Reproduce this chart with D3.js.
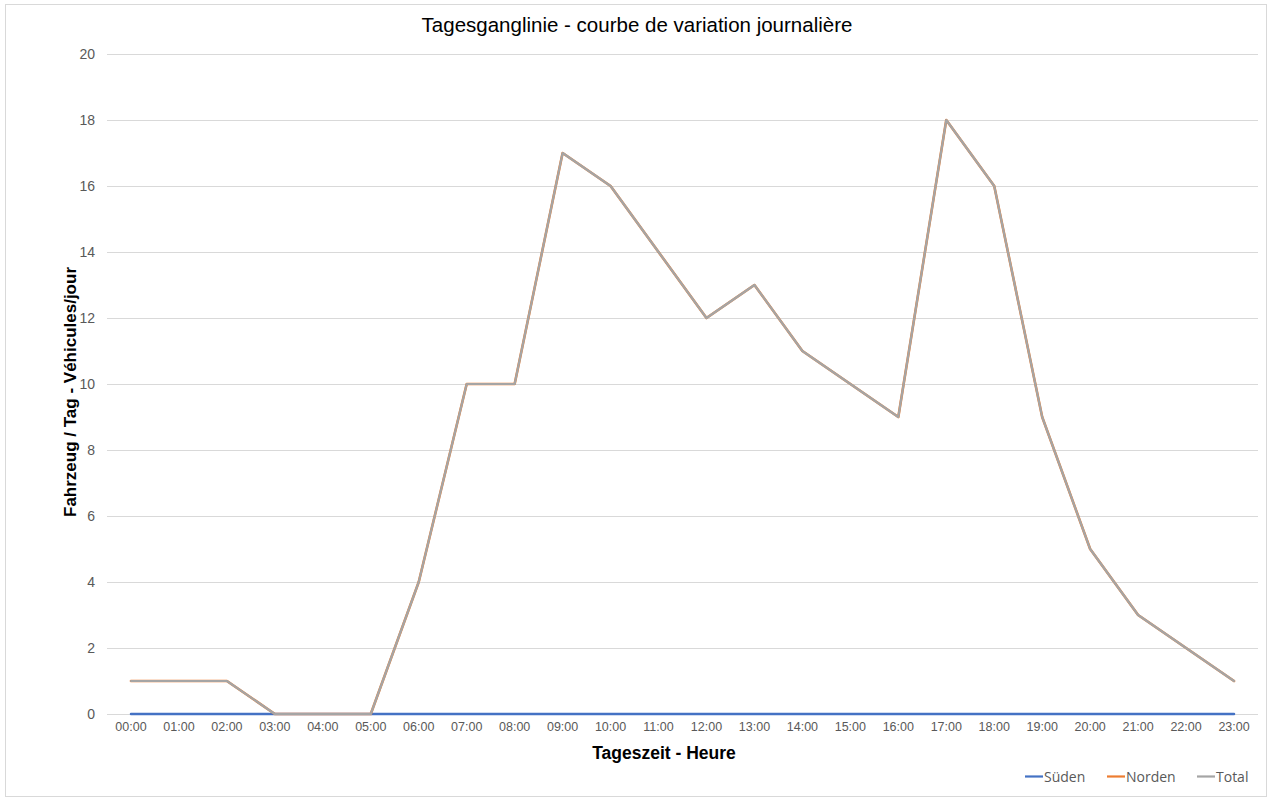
<!DOCTYPE html>
<html><head><meta charset="utf-8">
<script src="https://cdn.jsdelivr.net/npm/d3@7"></script>
<style>body{margin:0;background:#fff}</style>
</head><body>
<svg id="c" width="1271" height="800"></svg>
<script>
const hours = ["00:00","01:00","02:00","03:00","04:00","05:00","06:00","07:00","08:00","09:00","10:00","11:00","12:00","13:00","14:00","15:00","16:00","17:00","18:00","19:00","20:00","21:00","22:00","23:00"];
const sueden = [0,0,0,0,0,0,0,0,0,0,0,0,0,0,0,0,0,0,0,0,0,0,0,0];
const norden = [1,1,1,0,0,0,4,10,10,17,16,14,12,13,11,10,9,18,16,9,5,3,2,1];
const total  = [1,1,1,0,0,0,4,10,10,17,16,14,12,13,11,10,9,18,16,9,5,3,2,1];
const yTicks = [0,2,4,6,8,10,12,14,16,18,20];
const seriesNames = ["Süden","Norden","Total"];
const seriesColors = ["#4472C4","#ED7D31","#A5A5A5"];

const svg = d3.select("#c");
const font = "'Liberation Sans', Arial, sans-serif";
svg.append("rect").attr("x",5.5).attr("y",4.5).attr("width",1261).attr("height",792)
  .attr("fill","#fff").attr("stroke","#d9d9d9");

const x = d3.scaleBand().domain(hours).range([107,1258]);
const y = d3.scaleLinear().domain([0,20]).range([714,54]);

// gridlines
svg.append("g").selectAll("line").data(yTicks).join("line")
  .attr("x1",107).attr("x2",1258).attr("y1",d=>y(d)+0.5).attr("y2",d=>y(d)+0.5)
  .attr("stroke","#d9d9d9").attr("stroke-width",1);

// y axis
const ya = svg.append("g").attr("transform","translate(95,0)")
  .call(d3.axisLeft(y).tickValues(yTicks).tickSize(0).tickPadding(0));
ya.select(".domain").remove();
ya.selectAll("text").attr("font-family",font).attr("font-size",14).attr("fill","#595959");

// x axis
const xa = svg.append("g").attr("transform","translate(0,722)")
  .call(d3.axisBottom(x).tickSize(0).tickPadding(0));
xa.select(".domain").remove();
xa.selectAll("text").attr("font-family",font).attr("font-size",12.5).attr("fill","#595959").attr("dy","0.71em");

const line = d3.line().x((d,i)=>x(hours[i])+x.bandwidth()/2).y(d=>y(d));
const data = [sueden,norden,total];
const widths = [2.5,2.6,2.2];
data.forEach((s,k)=>{
  svg.append("path").datum(s).attr("d",line).attr("fill","none")
    .attr("stroke",seriesColors[k]).attr("stroke-width",widths[k])
    .attr("stroke-linejoin","round").attr("stroke-linecap","round");
});

// titles
svg.append("text").attr("x",637).attr("y",32).attr("text-anchor","middle")
  .attr("font-family",font).attr("font-size",20.5).attr("fill","#000")
  .text("Tagesganglinie - courbe de variation journalière");
svg.append("text").attr("x",664).attr("y",759).attr("text-anchor","middle")
  .attr("font-family",font).attr("font-size",17.5).attr("font-weight","bold").attr("fill","#000")
  .text("Tageszeit - Heure");
svg.append("text").attr("transform","translate(76,392) rotate(-90)").attr("text-anchor","middle")
  .attr("font-family",font).attr("font-size",17).attr("font-weight","bold").attr("fill","#000")
  .text("Fahrzeug / Tag - Véhicules/jour");

// legend
const lx = [1025,1107,1197];
const lg = svg.append("g");
seriesNames.forEach((n,i)=>{
  lg.append("line").attr("x1",lx[i]).attr("x2",lx[i]+18).attr("y1",776.5).attr("y2",776.5)
    .attr("stroke",seriesColors[i]).attr("stroke-width",2.2);
  lg.append("text").attr("x",lx[i]+19).attr("y",782).attr("font-family","'Open Sans', sans-serif")
    .attr("font-size",14).attr("fill","#595959").text(n);
});
</script>
</body></html>
